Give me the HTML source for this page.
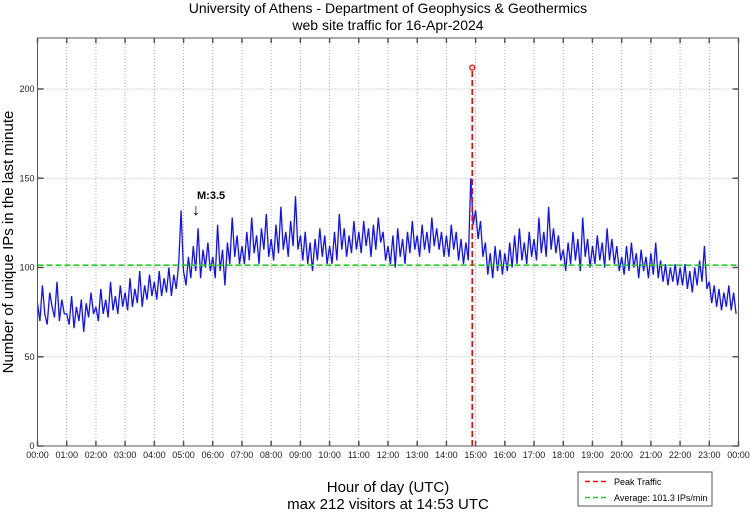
<!DOCTYPE html>
<html><head><meta charset="utf-8"><style>
body{margin:0;background:#fff;width:750px;height:511px;overflow:hidden;font-family:"Liberation Sans",sans-serif}
</style></head><body>
<svg id="chart" width="750" height="511" xmlns="http://www.w3.org/2000/svg" font-family="Liberation Sans, sans-serif">
<text x="388" y="13" font-size="14" text-anchor="middle">University of Athens - Department of Geophysics &amp; Geothermics</text>
<text x="388" y="30" font-size="14" text-anchor="middle">web site traffic for 16-Apr-2024</text>
<g id="grid"></g>
<g id="series"></g>
<g id="axes"></g>
<text transform="translate(13,242) rotate(-90)" font-size="15" text-anchor="middle">Number of unique IPs in the last minute</text>
<text x="388" y="492" font-size="15" text-anchor="middle">Hour of day (UTC)</text>
<text x="388" y="509" font-size="15" text-anchor="middle">max 212 visitors at 14:53 UTC</text>
<text x="197" y="199" font-size="11" font-weight="bold">M:3.5</text>
<text x="192" y="215" font-size="16">↓</text>
<g>
<rect x="578" y="472" width="134" height="34" fill="#fff" stroke="#555" stroke-width="1"/>
<line x1="585" y1="481.5" x2="609" y2="481.5" stroke="#f00" stroke-width="1.5" stroke-dasharray="5,3"/>
<text x="614" y="485" font-size="9">Peak Traffic</text>
<line x1="585" y1="497.5" x2="609" y2="497.5" stroke="#2c2" stroke-width="1.5" stroke-dasharray="5,3"/>
<text x="614" y="501" font-size="9">Average: 101.3 IPs/min</text>
</g>
</svg>
<script>
const hourTicks=["00:00","01:00","02:00","03:00","04:00","05:00","06:00","07:00","08:00","09:00","10:00","11:00","12:00","13:00","14:00","15:00","16:00","17:00","18:00","19:00","20:00","21:00","22:00","23:00","00:00"];
const yTicks=[0,50,100,150,200];
const averageValue=101.3;
const peakMinute=893;
const peakValue=212;
const stepMinutes=5;
const visitors=[
80,70,90,74,68,86,78,72,92,70,82,74,
74,68,84,66,78,70,82,64,80,72,86,74,
78,70,88,74,82,72,92,76,84,74,90,78,
86,76,94,78,88,80,98,78,90,82,96,84,
92,82,98,84,94,86,100,84,96,88,102,132,
98,90,106,94,112,98,122,94,110,100,114,98,
106,94,124,98,110,90,114,102,128,106,118,102,
112,102,120,104,128,108,118,102,122,110,130,106,
116,104,124,108,134,110,120,106,126,112,140,110,
118,104,120,102,114,98,116,104,122,106,118,102,
112,102,120,104,130,110,122,106,118,108,126,110,
120,108,126,112,122,106,124,110,128,114,120,104,
112,102,118,100,122,106,116,102,120,108,126,110,
118,106,124,110,120,108,128,112,122,110,120,106,
118,106,124,110,120,104,116,102,114,104,150,124,
132,116,126,106,114,96,108,94,112,98,110,96,
108,98,114,100,118,102,122,104,114,102,120,106,
116,104,128,108,120,106,134,110,122,108,118,104,
110,98,114,102,120,104,116,98,128,106,116,100,
112,102,118,104,114,100,122,104,116,102,112,98,
106,96,112,98,114,100,108,94,110,98,106,94,
108,96,114,94,104,92,102,90,100,92,102,90,
100,90,102,88,98,86,100,90,104,92,112,88,
92,80,90,78,88,76,86,78,90,76,86,74];
const X0=37.5,X1=738.5,Y0=446,Y1=38,YMAX=228.6;
const xs=m=>X0+(m/1440)*(X1-X0);
const ys=v=>Y0-(v/YMAX)*(Y0-Y1);
const NS="http://www.w3.org/2000/svg";
function mk(tag,attrs,parent){const e=document.createElementNS(NS,tag);for(const k in attrs)e.setAttribute(k,attrs[k]);parent.appendChild(e);return e;}
const grid=document.getElementById('grid'),axes=document.getElementById('axes'),ser=document.getElementById('series');
hourTicks.forEach((t,i)=>{const x=xs(i*60);
 if(i>0&&i<24){const g=mk('line',{x1:x,x2:x,y1:Y1,y2:Y0,stroke:'#999','stroke-width':0.8,'stroke-dasharray':'1,2'},grid);
 
 }
 const tk=mk('path',{d:`M${x},${Y0}v-5M${x},${Y1}v5`,stroke:'#555','stroke-width':1.5},axes);
 
 
 const lb=mk('text',{x:x,y:Y0+12,'font-size':9,'text-anchor':'middle',fill:'#222'},axes);lb.textContent=t;
 
 
});
yTicks.forEach(v=>{const y=ys(v);
 if(v>0){const g=mk('line',{x1:X0,x2:X1,y1:y,y2:y,stroke:'#999','stroke-width':0.8,'stroke-dasharray':'1,2'},grid);
 
 }
 const tk=mk('path',{d:`M${X0},${y}h6M${X1},${y}h-6`,stroke:'#555','stroke-width':1.5},axes);
 
 
 const lb=mk('text',{x:X0-3,y:y+3,'font-size':9,'text-anchor':'end',fill:'#222'},axes);lb.textContent=v;
 
 
});
const frame=mk('rect',{x:X0,y:Y1,width:X1-X0,height:Y0-Y1,fill:'none',stroke:'#555','stroke-width':1},axes);


let d='';visitors.forEach((v,i)=>{d+=(i?'L':'M')+xs(i*stepMinutes).toFixed(1)+','+ys(v).toFixed(1);});
const line=mk('path',{d:d,fill:'none',stroke:'#1010ff','stroke-width':1.3},ser);


const avg=mk('line',{x1:X0,x2:X1,y1:ys(averageValue),y2:ys(averageValue),stroke:'#2c2','stroke-width':1.6,'stroke-dasharray':'6,3'},ser);


const pk=mk('line',{x1:xs(peakMinute),x2:xs(peakMinute),y1:Y0,y2:ys(peakValue),stroke:'#f00','stroke-width':1.6,'stroke-dasharray':'6,3'},ser);


const pm=mk('circle',{cx:xs(peakMinute),cy:ys(peakValue),r:2.5,fill:'none',stroke:'#f00','stroke-width':1.2},ser);


</script>
</body></html>
